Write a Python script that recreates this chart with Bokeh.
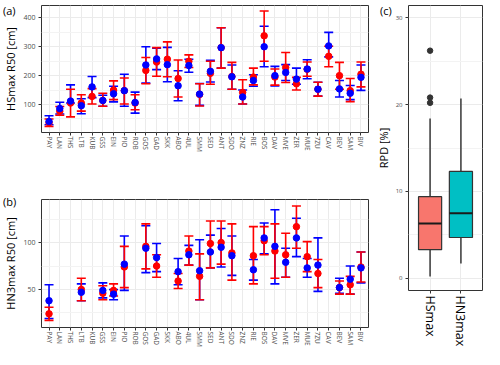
import numpy as np
from bokeh.plotting import figure
from bokeh.models import (ColumnDataSource, Range1d, FactorRange, Whisker, TeeHead,
                          FixedTicker, Div, GridBox)
from bokeh.layouts import row, column
from bokeh.transform import dodge
from bokeh.embed import file_html
from bokeh.resources import INLINE

nan = np.nan

stations = ["PAY", "LAN", "THS", "LTB", "KUB", "GSS", "EIN", "PIO", "ROB", "GOS",
            "GAD", "SKK", "ABO", "4UL", "SMM", "SED", "ANT", "SDO", "ZNZ", "RIE",
            "BOS", "DAV", "MVE", "ZER", "MUE", "7ZU", "CAV", "BEV", "SAM", "BIV"]

# Panel (a): HSmax R50 [cm]
hs_blue =    [41, 86, 112, 96, 161, 114, 137, 148, 107, 237, 258, 238, 165, 235, 136,
              215, 297, 196, 126, 183, 300, 200, 211, 188, 223, 153, 303, 154, 139, 194]
hs_blue_lo = [30, 67, 105, 68, 124, 94, 109, 94, 70, 174, 221, 179, 113, 212, 97,
              178, 226, 153, 102, 163, 231, 164, 183, 170, 189, 129, 265, 126, 117, 149]
hs_blue_hi = [61, 108, 168, 120, 197, 132, 163, 205, 143, 300, 295, 298, 217, 257, 173,
              253, 366, 237, 150, 203, 371, 232, 238, 226, 255, 177, 350, 183, 166, 237]
hs_red =     [37, 77, 105, 105, 128, 114, 150, 148, 105, 218, 247, 257, 190, 250, 135,
              208, 297, 197, 142, 195, 338, 195, 228, 172, 222, 153, 267, 200, 148, 205]
hs_red_lo =  [24, 63, 57, 77, 102, 94, 117, 102, 82, 172, 198, 196, 126, 228, 95,
              170, 226, 153, 102, 168, 250, 167, 176, 150, 198, 129, 231, 153, 110, 161]
hs_red_hi =  [50, 93, 153, 134, 155, 139, 182, 192, 134, 263, 297, 317, 254, 272, 172,
              250, 366, 246, 186, 226, 424, 223, 280, 194, 247, 177, 302, 246, 190, 247]

# Panel (b): HN3max R50 [cm]
hn_blue =    [38, nan, nan, 47, nan, 49, 45, 77, nan, 94, 84, nan, 69, 87, 70,
              90, 95, 86, nan, 71, 105, 96, 79, 105, 73, 76, nan, 52, 61, 73]
hn_blue_lo = [19, nan, nan, 38, nan, 41, 39, 49, nan, 68, 69, nan, 55, 76, 39,
              73, 74, 65, nan, 60, 88, 56, 63, 85, 63, 48, nan, 46, 45, 57]
hn_blue_hi = [55, nan, nan, 56, nan, 57, 50, 107, nan, 118, 99, nan, 83, 97, 103,
              108, 115, 107, nan, 82, 121, 135, 94, 126, 83, 105, nan, 62, 75, 90]
hn_red =     [24, nan, nan, 50, nan, 46, 49, 74, nan, 96, 75, nan, 59, 91, 64,
              99, 100, 89, nan, 86, 102, 91, 87, 117, 85, 67, nan, 52, 55, 74]
hn_red_lo =  [17, nan, nan, 38, nan, 39, 43, 52, nan, 72, 63, nan, 51, 76, 39,
              73, 77, 60, nan, 56, 87, 62, 63, 94, 69, 52, nan, 45, 45, 58]
hn_red_hi =  [31, nan, nan, 62, nan, 54, 56, 96, nan, 120, 87, nan, 67, 107, 88,
              123, 123, 120, nan, 117, 117, 120, 110, 139, 101, 82, nan, 59, 64, 90]

# Panel (c): RPD [%] box statistics
box_cats = ["HSmax", "HN3max"]
box_q1 = [3.3, 4.7]
box_med = [6.3, 7.5]
box_q3 = [9.4, 12.3]
box_lo = [0.2, 1.7]
box_hi = [18.4, 20.7]
box_colors = ["#F8766D", "#00BFC4"]
out_cat = ["HSmax", "HSmax", "HSmax"]
out_val = [26.2, 20.8, 20.2]

FONT = "Open Sans"
BLUE = "#0000FF"
RED = "#FF0000"
TICKCOL = "#4D4D4D"


def style(p, yticks, yminor, ylabel, label_size="11px"):
    p.outline_line_color = "#333333"
    p.outline_line_width = 1
    tk = FixedTicker(ticks=yticks, minor_ticks=yminor)
    p.yaxis.ticker = tk
    p.ygrid.ticker = tk
    p.xgrid.grid_line_color = "#EBEBEB"
    p.ygrid.grid_line_color = "#EBEBEB"
    p.ygrid.minor_grid_line_color = "#F3F3F3"
    for ax in (p.xaxis[0], p.yaxis[0]):
        ax.axis_line_color = None
        ax.major_tick_line_color = "#333333"
        ax.major_tick_in = 0
        ax.major_tick_out = 3
        ax.minor_tick_line_color = None
        ax.major_label_text_color = TICKCOL
        ax.major_label_text_font = FONT
        ax.major_label_standoff = 2
        ax.axis_label_text_font = FONT
        ax.axis_label_text_font_style = "normal"
        ax.axis_label_text_color = "#000000"
    p.yaxis.major_label_text_font_size = "7px"
    p.yaxis.axis_label = ylabel
    p.yaxis.axis_label_text_font_size = label_size
    p.yaxis.axis_label_standoff = 2


def with_tag(fig, text, top, left):
    t = Div(text=text, width=22, height=16, margin=(top, 0, 0, left), align="start",
            styles={"font-family": FONT, "font-size": "11px", "line-height": "14px",
                    "color": "#000000"})
    return GridBox(children=[(fig, 0, 0), (t, 0, 0)], spacing=0)


def err_panel(height, yr, yticks, yminor, ylabel, mbt, mbb, bvals, rvals):
    p = figure(width=370, height=height,
               x_range=FactorRange(factors=stations, range_padding=0.2,
                                   range_padding_units="absolute"),
               y_range=Range1d(*yr), output_backend="svg", toolbar_location=None,
               min_border_top=mbt, min_border_bottom=mbb, min_border_left=34,
               min_border_right=2, border_fill_color=None)
    style(p, yticks, yminor, ylabel)
    p.xaxis.major_label_orientation = "vertical"
    p.xaxis.major_label_text_font_size = "6.5px"
    p.xaxis.major_label_standoff = 1
    srcs = []
    for (v, lo, hi), col in ((bvals, BLUE), (rvals, RED)):
        src = ColumnDataSource(dict(st=stations, v=v, lo=lo, hi=hi))
        w = Whisker(base="st", lower="lo", upper="hi", source=src,
                    line_color=col, line_width=1.6, level="underlay",
                    lower_head=TeeHead(size=9, line_color=col, line_width=1.6),
                    upper_head=TeeHead(size=9, line_color=col, line_width=1.6))
        p.add_layout(w)
        srcs.append((src, col))
    for src, col in (srcs[1], srcs[0]):
        p.scatter(x="st", y="v", source=src, size=6.5, fill_color=col, line_color=col)
    return p


pa = err_panel(174, (3, 443), [100, 200, 300, 400], [50, 150, 250, 350, 450],
               "HSmax R50 [cm]", 5, 42,
               (hs_blue, hs_blue_lo, hs_blue_hi), (hs_red, hs_red_lo, hs_red_hi))
pb = err_panel(175, (9.4, 146), [50, 100], [25, 75, 125],
               "HN3max R50 [cm]", 25, 22,
               (hn_blue, hn_blue_lo, hn_blue_hi), (hn_red, hn_red_lo, hn_red_hi))

# Panel (c)
pc = figure(width=114, height=349,
            x_range=FactorRange(factors=box_cats, range_padding=0.2,
                                range_padding_units="absolute"),
            y_range=Range1d(-1.4, 31.4), output_backend="svg", toolbar_location=None,
            min_border_top=5, min_border_bottom=55, min_border_left=38, min_border_right=2,
            border_fill_color=None)
style(pc, [0, 10, 20, 30], [5, 15, 25], "RPD [%]")
pc.yaxis.major_label_text_font_size = "6px"
pc.xaxis.major_label_orientation = "vertical"
pc.xaxis.major_label_text_font_size = "12.5px"
pc.xaxis.major_label_text_color = "#000000"

bsrc = ColumnDataSource(dict(c=box_cats, q1=box_q1, med=box_med, q3=box_q3,
                             lo=box_lo, hi=box_hi, col=box_colors))
pc.segment(x0="c", y0="q3", x1="c", y1="hi", source=bsrc, line_color="#444444", line_width=1.6)
pc.segment(x0="c", y0="lo", x1="c", y1="q1", source=bsrc, line_color="#444444", line_width=1.6)
pc.vbar(x="c", bottom="q1", top="q3", width=0.75, source=bsrc, fill_color="col",
        line_color="#333333", line_width=1.2)
pc.segment(x0=dodge("c", -0.375, range=pc.x_range), y0="med",
           x1=dodge("c", 0.375, range=pc.x_range), y1="med", source=bsrc,
           line_color="#1A1A1A", line_width=2)
pc.scatter(x=out_cat, y=out_val, size=5.5, fill_color="#333333", line_color="#333333")

layout = row(column(with_tag(pa, "(a)", 4, 3), with_tag(pb, "(b)", 21, 3)),
             with_tag(pc, "(c)", 4, 10))
open("out.html", "w").write(file_html(layout, INLINE))
